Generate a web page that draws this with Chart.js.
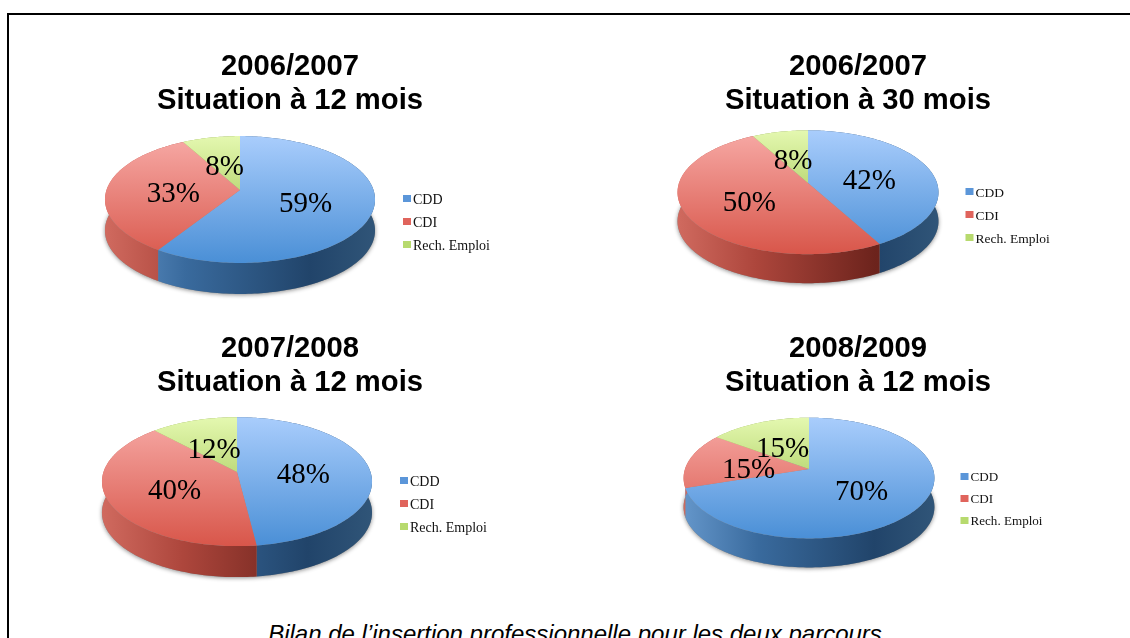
<!DOCTYPE html>
<html lang="fr">
<head>
<meta charset="utf-8">
<title>Bilan de l'insertion professionnelle</title>
<script src="https://cdn.jsdelivr.net/npm/chart.js@4"></script>
<style>
    html, body { margin: 0; padding: 0; background: #fff; overflow: hidden; }
    body { width: 1130px; height: 638px; position: relative; }
    #frame { position: absolute; left: 7px; top: 13px; width: 1130px; height: 700px; border: 2px solid #000; box-sizing: border-box; }
    canvas { position: absolute; }
    #caption { position: absolute; left: 0; width: 1150px; top: 620px; text-align: center; white-space: nowrap;
        font: italic 24px 'Liberation Sans', Arial, sans-serif; color: #000; }
</style>
</head>
<body>
<div id="frame"></div>
<canvas id="pie1"></canvas>
<canvas id="pie2"></canvas>
<canvas id="pie3"></canvas>
<canvas id="pie4"></canvas>
<div id="caption">Bilan de l’insertion professionnelle pour les deux parcours</div>

<script>
// ─── Data ───
const categories = ['CDD', 'CDI', 'Rech. Emploi'];
const titles = [
    ['2006/2007', 'Situation à 12 mois'],
    ['2006/2007', 'Situation à 30 mois'],
    ['2007/2008', 'Situation à 12 mois'],
    ['2008/2009', 'Situation à 12 mois'],
];
const values1 = [59, 33, 8];
const values2 = [42, 50, 8];
const values3 = [48, 40, 12];
const values4 = [70, 15, 15];

// ─── Colors ───
const LEGEND_COLORS = ['#5b96d9', '#e0645c', '#b7da6e'];
const TOP_COLORS = [['#a9cdfc', '#4a8fd6'], ['#f7aaa6', '#d8564a'], ['#e4f8b0', '#8db536']];
const WALL_COLORS = [
    ['#6496ca', '#396a9d', '#21446a', '#305578'],
    ['#d06a5f', '#ad463c', '#6c231c', '#7a2c24'],
    ['#b4cf6a', '#8fa94e', '#5f7530', '#6b8238'],
];

// ─── Layout of each pie (page pixels) ───
const PIES = [
    { id: 'pie1', values: values1, title: titles[0], titleX: 290, titleTop: 40, cx: 240, cy: 190, radius: 133.5, flat: 62, depth: 31, legendX: 403, legendY: 200, legendGap: 23, legendFont: 14 },
    { id: 'pie2', values: values2, title: titles[1], titleX: 857.5, titleTop: 40, cx: 807.5, cy: 183, radius: 129, flat: 60.5, depth: 29, legendX: 965, legendY: 193, legendGap: 23, legendFont: 13.5 },
    { id: 'pie3', values: values3, title: titles[2], titleX: 290, titleTop: 322, cx: 237, cy: 472, radius: 133.5, flat: 63, depth: 31, legendX: 400, legendY: 482, legendGap: 23, legendFont: 14 },
    { id: 'pie4', values: values4, title: titles[3], titleX: 857.5, titleTop: 322, cx: 808.5, cy: 469, radius: 124, flat: 59, depth: 29, legendX: 960, legendY: 478, legendGap: 22, legendFont: 13.1 },
];
const CANVAS_W = 540, CANVAS_H = 275;
const PERSPECTIVE = 0.15;

// Project a point of the unit disc onto the tilted pie
function project(arc, flat, u, v) {
    const w = 1 - PERSPECTIVE * v;
    return { x: arc.x + arc.outerRadius * u / w, y: arc.y + flat * v / w };
}

function rimPoints(arc, flat, a0, a1) {
    const n = Math.max(2, Math.ceil((a1 - a0) / 0.02));
    const pts = [];
    for (let i = 0; i <= n; i++) {
        const a = a0 + (a1 - a0) * i / n;
        pts.push(project(arc, flat, Math.cos(a), Math.sin(a)));
    }
    return pts;
}

// ─── Draws the 3D pie from the arc elements computed by Chart.js ───
const pie3d = {
    id: 'pie3d',
    afterLayout(chart, args, opts) {
        // pin the pie centre, the title keeps its own box
        const a = chart.chartArea;
        a.left = opts.centerX - 10; a.right = opts.centerX + 10;
        a.top = opts.centerY - 10; a.bottom = opts.centerY + 10;
        a.width = 20; a.height = 20;
    },
    beforeDatasetsDraw(chart, args, opts) {
        const ctx = chart.ctx;
        const arcs = chart.getDatasetMeta(0).data;
        const R = arcs[0].outerRadius, X = arcs[0].x, Y = arcs[0].y;
        const flat = opts.flat, depth = opts.depth;
        const full = rimPoints(arcs[0], flat, 0, Math.PI * 2);
        const left = X - R * 1.012, right = X + R * 1.012;
        const top = Y - flat / (1 + PERSPECTIVE), bottom = Y + flat / (1 - PERSPECTIVE);

        // soft shadow under the pie
        ctx.save();
        ctx.shadowColor = 'rgba(0,0,0,0.45)';
        ctx.shadowBlur = 4;
        ctx.shadowOffsetY = 1;
        ctx.fillStyle = '#888';
        ctx.beginPath();
        full.forEach((p, i) => i ? ctx.lineTo(p.x, p.y + depth) : ctx.moveTo(p.x, p.y + depth));
        ctx.closePath();
        ctx.fill();
        ctx.restore();

        // side wall
        arcs.forEach((arc, i) => {
            const pts = rimPoints(arc, flat, arc.startAngle, arc.endAngle);
            const g = ctx.createLinearGradient(left, 0, right, 0);
            [0, 0.3, 0.76, 1].forEach((s, k) => g.addColorStop(s, WALL_COLORS[i][k]));
            ctx.fillStyle = g;
            ctx.beginPath();
            pts.forEach((p, k) => k ? ctx.lineTo(p.x, p.y) : ctx.moveTo(p.x, p.y));
            pts.slice().reverse().forEach(p => ctx.lineTo(p.x, p.y + depth));
            ctx.closePath();
            ctx.fill();
        });

        // top faces
        arcs.forEach((arc, i) => {
            const pts = rimPoints(arc, flat, arc.startAngle, arc.endAngle);
            const g = ctx.createLinearGradient(0, top, 0, bottom);
            g.addColorStop(0, TOP_COLORS[i][0]);
            g.addColorStop(1, TOP_COLORS[i][1]);
            ctx.fillStyle = g;
            ctx.beginPath();
            ctx.moveTo(X, Y);
            pts.forEach(p => ctx.lineTo(p.x, p.y));
            ctx.closePath();
            ctx.fill();
        });

        // percent labels, halfway along each slice
        ctx.fillStyle = '#000';
        ctx.font = "29px 'Liberation Serif', serif";
        ctx.textAlign = 'center';
        ctx.textBaseline = 'middle';
        arcs.forEach((arc, i) => {
            const mid = (arc.startAngle + arc.endAngle) / 2;
            const p = project(arc, flat, Math.cos(mid) / 2, Math.sin(mid) / 2);
            ctx.fillText(chart.data.datasets[0].data[i] + '%', p.x, p.y + 5.5);
        });

        // legend, packed tighter than the built-in one allows
        ctx.font = opts.legendFont + "px 'Liberation Serif', serif";
        ctx.textAlign = 'left';
        chart.data.labels.forEach((label, i) => {
            const ly = opts.legendY + i * opts.legendGap;
            ctx.fillStyle = LEGEND_COLORS[i];
            ctx.fillRect(opts.legendX, ly - 5, 8, 7);
            ctx.fillStyle = '#111';
            ctx.fillText(label, opts.legendX + 10, ly);
        });
        return false;
    },
};

// ─── Chart factory ───
function createPie(cfg) {
    const el = document.getElementById(cfg.id);
    const left = cfg.titleX - CANVAS_W / 2;
    el.width = CANVAS_W;
    el.height = CANVAS_H;
    el.style.left = left + 'px';
    el.style.top = cfg.titleTop + 'px';
    return new Chart(el, {
        type: 'pie',
        plugins: [pie3d],
        data: {
            labels: categories,
            datasets: [{ data: cfg.values, backgroundColor: LEGEND_COLORS, borderWidth: 0, radius: cfg.radius }],
        },
        options: {
            responsive: false,
            animation: false,
            events: [],
            plugins: {
                legend: { display: false },
                tooltip: { enabled: false },
                title: {
                    display: true,
                    text: cfg.title,
                    color: '#000',
                    padding: { top: 10, bottom: 0 },
                    font: { family: "'Liberation Sans', Arial, sans-serif", size: 29.2, weight: 'bold', lineHeight: 1.165 },
                },
                pie3d: {
                    centerX: cfg.cx - left,
                    centerY: cfg.cy - cfg.titleTop,
                    flat: cfg.flat,
                    depth: cfg.depth,
                    legendX: cfg.legendX - left,
                    legendY: cfg.legendY - cfg.titleTop,
                    legendGap: cfg.legendGap,
                    legendFont: cfg.legendFont,
                },
            },
        },
    });
}

PIES.forEach(createPie);
</script>
</body>
</html>
